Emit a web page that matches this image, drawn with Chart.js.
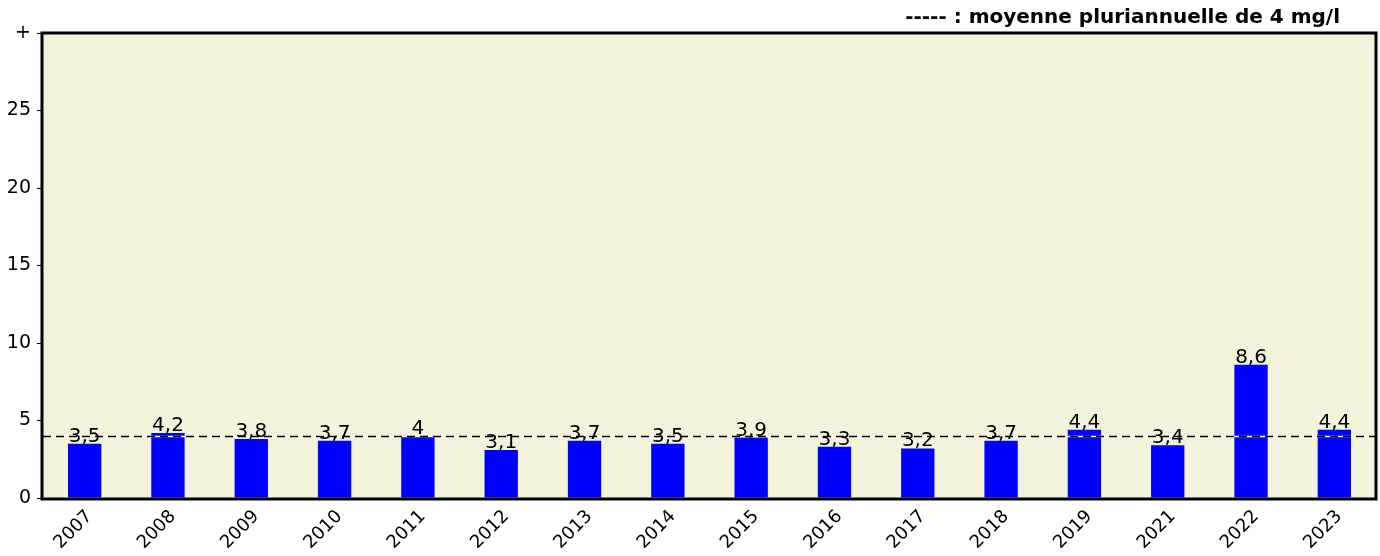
<!DOCTYPE html>
<html>
<head>
<meta charset="utf-8">
<script src="https://cdn.jsdelivr.net/npm/chart.js@4"></script>
<style>
  html, body { margin: 0; padding: 0; background: #fff; }
  #wrap { width: 1380px; height: 556px; }
</style>
</head>
<body>
<div id="wrap"><canvas id="myChart" width="1380" height="556"></canvas></div>
<script>
// Données
const annees = ['2007', '2008', '2009', '2010', '2011', '2012', '2013', '2014', '2015', '2016', '2017', '2018', '2019', '2021', '2022', '2023'];
const valeurs = [3.5, 4.2, 3.8, 3.7, 4, 3.1, 3.7, 3.5, 3.9, 3.3, 3.2, 3.7, 4.4, 3.4, 8.6, 4.4];
const moyenne = 4;
const ticksY = [0, 5, 10, 15, 20, 25, 30];
const titre = '----- : moyenne pluriannuelle de 4 mg/l';

const police = 'DejaVu Sans, Verdana, sans-serif';

// fond, bordure, ligne de moyenne, étiquettes
const decor = {
    id: 'decor',
    beforeDatasetsDraw(chart) {
        const { ctx, chartArea: a } = chart;
        ctx.save();
        ctx.fillStyle = '#f3f3db';
        ctx.fillRect(a.left, a.top, a.right - a.left, a.bottom - a.top);
        ctx.restore();
    },
    afterDatasetsDraw(chart) {
        const { ctx, chartArea: a, scales } = chart;
        const y = Math.round(scales.y.getPixelForValue(moyenne)) + 0.5;
        ctx.save();
        ctx.lineWidth = 1.5;
        ctx.strokeStyle = '#ffffff';
        ctx.beginPath();
        ctx.moveTo(a.left, y);
        ctx.lineTo(a.right, y);
        ctx.stroke();
        ctx.setLineDash([8, 5]);
        ctx.strokeStyle = '#000000';
        ctx.beginPath();
        ctx.moveTo(a.left, y);
        ctx.lineTo(a.right, y);
        ctx.stroke();
        ctx.setLineDash([]);

        // étiquettes des barres
        ctx.fillStyle = '#000';
        ctx.font = '20px ' + police;
        ctx.textAlign = 'center';
        ctx.textBaseline = 'alphabetic';
        const meta = chart.getDatasetMeta(0);
        meta.data.forEach((bar, i) => {
            const txt = String(valeurs[i]).replace('.', ',');
            ctx.fillText(txt, bar.x, bar.y - 2);
        });

        // bordure
        ctx.lineWidth = 3;
        ctx.strokeStyle = '#000';
        ctx.strokeRect(a.left - 1, a.top, a.right - a.left + 1, a.bottom - a.top + 1);

        // titre
        ctx.font = 'bold 20px ' + police;
        ctx.textAlign = 'right';
        ctx.textBaseline = 'middle';
        ctx.fillText(titre, 1340, 18);
        ctx.restore();
    }
};

const data = {
    labels: annees,
    datasets: [{
        data: valeurs,
        backgroundColor: '#0000ff',
        borderWidth: 0,
        barPercentage: 0.4,
        categoryPercentage: 1
    }]
};

const options = {
    responsive: false,
    animation: false,
    layout: { padding: { top: 33, right: 4, left: 0, bottom: 0 } },
    plugins: {
        legend: { display: false },
        tooltip: { enabled: false }
    },
    scales: {
        x: {
            grid: { display: false },
            border: { display: false },
            ticks: {
                color: '#000',
                font: { family: police, size: 18 },
                maxRotation: 45,
                minRotation: 45,
                autoSkip: false,
                padding: 0,
                labelOffset: 5
            },
            afterFit(s) { s.height = 58; }
        },
        y: {
            min: 0,
            max: 30,
            afterBuildTicks(s) { s.ticks = ticksY.map(v => ({ value: v })); },
            grid: { drawOnChartArea: false, color: '#000', tickLength: 6, lineWidth: 1 },
            border: { display: false },
            ticks: {
                color: '#000',
                font: { family: police, size: 19 },
                padding: 6,
                callback: v => v === 30 ? '+' : v
            },
            afterFit(s) { s.width = 43; }
        }
    }
};

const ctx = document.getElementById('myChart').getContext('2d');
const myChart = new Chart(ctx, {
    type: 'bar',
    data: data,
    options: options,
    plugins: [decor]
});
</script>
</body>
</html>
